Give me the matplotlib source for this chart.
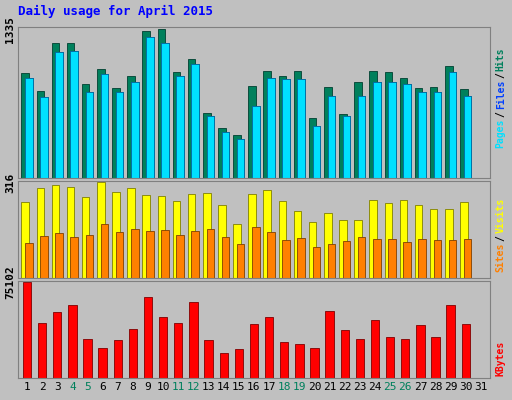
import numpy as np
import matplotlib.pyplot as plt

days = np.arange(1, 32)
hits = [942, 777, 1207, 1207, 841, 978, 805, 914, 1317, 1335, 951, 1070, 585, 448, 384,
        823, 960, 914, 960, 539, 814, 576, 860, 960, 951, 896, 805, 814, 1006, 795, 0]
files = [896, 731, 1134, 1143, 768, 933, 768, 859, 1262, 1207, 914, 1025, 558, 411, 347,
         649, 896, 887, 887, 466, 740, 558, 740, 859, 859, 841, 768, 768, 951, 740, 0]
pages = files
visits = [250, 297, 306, 300, 267, 319, 284, 297, 275, 271, 254, 278, 281, 243, 177,
          278, 292, 254, 222, 184, 215, 191, 191, 257, 247, 257, 243, 229, 229, 250, 0]
sites = [115, 139, 149, 135, 142, 177, 153, 163, 156, 160, 142, 156, 163, 135, 111,
         170, 153, 125, 132, 104, 111, 122, 135, 128, 128, 118, 128, 125, 125, 128, 0]
kbytes = [75102, 43241, 52222, 57125, 30972, 23623, 30155, 38320, 63670, 47730, 43241,
          59575, 30155, 19736, 22908, 42424, 47730, 28523, 26890, 23623, 53043, 37503,
          30972, 45700, 32606, 30972, 41791, 32606, 57125, 42424, 0]

bg = '#c0c0c0'
fig = plt.figure(figsize=(5.12, 4.0), dpi=100, facecolor=bg)
mono = {'family': 'DejaVu Sans Mono', 'weight': 'bold'}

def panel(rect, top):
    ax = fig.add_axes(rect, facecolor=bg)
    ax.set_xlim(0.4, 31.6)
    ax.set_ylim(0, top * 1.015)
    ax.set_yticks([top])
    ax.set_yticklabels([str(top)], rotation=90, va='center', fontsize=8, **mono)
    ax.tick_params(axis='y', length=0, pad=2)
    ax.set_xticks([])
    for s in ax.spines.values():
        s.set_color('#808080')
    return ax

ax1 = panel([0.035, 0.555, 0.922, 0.3775], 1335)
ax1.bar(days - 0.12, hits, width=0.5, color='#00805c', edgecolor='#004030', linewidth=0.6)
ax1.bar(days + 0.12, files, width=0.5, color='#0040ff', edgecolor='#002080', linewidth=0.6)
ax1.bar(days + 0.12, pages, width=0.5, color='#00e0ff', edgecolor='#0070a0', linewidth=0.6)

ax2 = panel([0.035, 0.305, 0.922, 0.2425], 316)
ax2.bar(days - 0.12, visits, width=0.5, color='#ffff00', edgecolor='#808000', linewidth=0.6)
ax2.bar(days + 0.12, sites, width=0.5, color='#ff8000', edgecolor='#804000', linewidth=0.6)

ax3 = panel([0.035, 0.055, 0.922, 0.2425], 75102)
ax3.bar(days, kbytes, width=0.55, color='#ff0000', edgecolor='#800000', linewidth=0.6)

weekend = {4, 5, 11, 12, 18, 19, 25, 26}
ax3.set_xticks(days)
ax3.set_xticklabels([str(d) for d in days], fontsize=8, family='DejaVu Sans Mono')
for lbl, d in zip(ax3.get_xticklabels(), days):
    lbl.set_color('#00805c' if d in weekend else 'black')
ax3.tick_params(axis='x', length=0, pad=3)

fig.text(0.035, 0.962, 'Daily usage for April 2015', color='#0000ff', fontsize=9, **mono)

def side(parts, x, y0):
    y = y0
    for txt, col in parts:
        t = fig.text(x, y, txt, color=col, rotation=90, fontsize=7, ha='center', va='bottom', **mono)
        y += len(txt) * 0.0148 + 0.004
side([('Pages', '#00e0ff'), ('/', 'black'), ('Files', '#0040ff'), ('/', 'black'), ('Hits', '#00805c')],
     0.978, 0.63)
side([('Sites', '#ff8000'), ('/', 'black'), ('Visits', '#ffff00')], 0.978, 0.32)
side([('KBytes', '#ff0000')], 0.978, 0.06)

fig.savefig('out.png', dpi=100, facecolor=bg)
